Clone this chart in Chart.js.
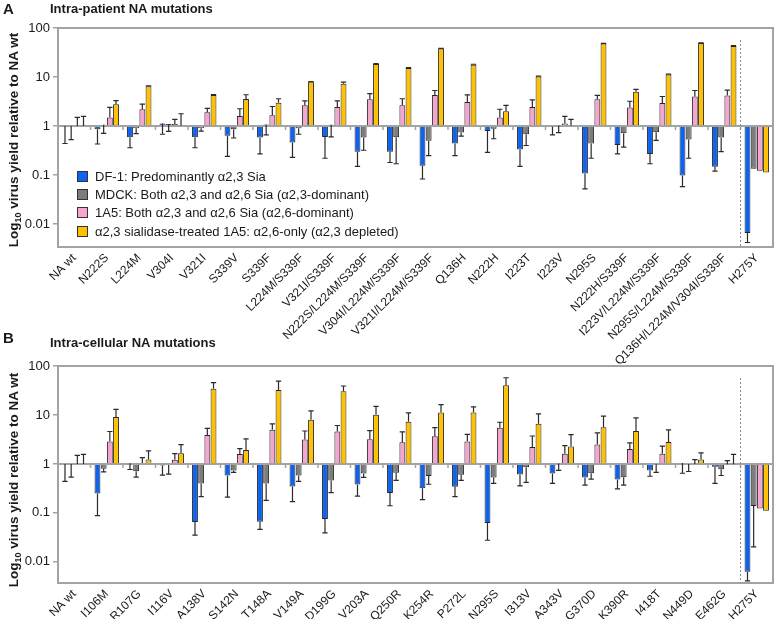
<!DOCTYPE html>
<html lang="en">
<head>
  <meta charset="UTF-8" />
  <title>Virus yield of NA mutants</title>
  <style>
    * { margin: 0; padding: 0; box-sizing: border-box; }
    body {
      width: 775px;
      height: 619px;
      position: relative;
      overflow: hidden;
      background: #fff;
      color: #1a1a1a;
      font-family: 'Liberation Sans', Arial, sans-serif;
    }
    canvas { position: absolute; left: 0; }
    #chartA { top: 0; }
    #chartB { top: 330px; }
    .panel { position: absolute; font-weight: bold; font-size: 15px; line-height: 15px; }
    .title { position: absolute; font-weight: bold; font-size: 13px; line-height: 13px; }
    .ytitle {
      position: absolute;
      font-weight: bold;
      font-size: 13.5px;
      line-height: 13px;
      white-space: nowrap;
      transform: translate(-50%, -50%) rotate(-90deg);
    }
    .ytitle sub { font-size: 9px; line-height: 0; }
    .legend { position: absolute; left: 77px; top: 167px; font-size: 13px; }
    .legend div { height: 18.3px; display: flex; align-items: center; white-space: nowrap; }
    .legend .box { width: 11px; height: 11px; border: 1px solid #333; margin-right: 7px; flex: none; }
  </style>
</head>
<body>
  <canvas id="chartA" width="775" height="370"></canvas>
  <canvas id="chartB" width="775" height="289"></canvas>

  <div class="panel" style="left:3px; top:1px;">A</div>
  <div class="title" style="left:50px; top:2px;">Intra-patient NA mutations</div>
  <div class="ytitle" style="left:13px; top:140px;">Log<sub>10</sub> virus yield relative to NA wt</div>

  <div class="panel" style="left:3px; top:330px;">B</div>
  <div class="title" style="left:50px; top:336px;">Intra-cellular NA mutations</div>
  <div class="ytitle" style="left:13px; top:480px;">Log<sub>10</sub> virus yield relative to NA wt</div>

  <div class="legend" id="legend"></div>

  <script src="https://cdn.jsdelivr.net/npm/chart.js"></script>
  <script>
    // categories
    const categoriesA = ['NA wt', 'N222S', 'L224M', 'V304I', 'V321I', 'S339V', 'S339F',
      'L224M/S339F', 'V321I/S339F', 'N222S/L224M/S339F', 'V304I/L224M/S339F',
      'V321I/L224M/S339F', 'Q136H', 'N222H', 'I223T', 'I223V', 'N295S', 'N222H/S339F',
      'I223V/L224M/S339F', 'N295S/L224M/S339F', 'Q136H/L224M/V304I/S339F', 'H275Y'];
    const categoriesB = ['NA wt', 'I106M', 'R107G', 'I116V', 'A138V', 'S142N', 'T148A',
      'V149A', 'D199G', 'V203A', 'Q250R', 'K254R', 'P272L', 'N295S', 'I313V', 'A343V',
      'G370D', 'K390R', 'I418T', 'N449D', 'E462G', 'H275Y'];

    const seriesNames = [
      'DF-1: Predominantly α2,3 Sia',
      'MDCK: Both α2,3 and α2,6 Sia (α2,3-dominant)',
      '1A5: Both α2,3 and α2,6 Sia (α2,6-dominant)',
      'α2,3 sialidase-treated 1A5: α2,6-only (α2,3 depleted)'
    ];
    const tickValues = [0.01, 0.1, 1, 10, 100];

    // panel A: fold change vs NA wt, and where the error whisker ends
    const df1A = [1, 0.86, 0.59, 1.13, 0.59, 0.63, 0.58, 0.46, 0.6, 0.3, 0.3, 0.155, 0.44, 0.79, 0.33, 0.97, 0.108, 0.41, 0.27, 0.098, 0.148, 0.0066];
    const df1ErrA = [0.44, 0.43, 0.36, 0.68, 0.36, 0.24, 0.27, 0.23, 0.22, 0.15, 0.18, 0.083, 0.25, 0.29, 0.15, 0.66, 0.052, 0.27, 0.17, 0.058, 0.12, 0.0042];
    const mdckA = [1, 1.06, 0.9, 1.1, 0.9, 0.86, 1.08, 0.9, 1.06, 0.58, 0.59, 0.5, 0.74, 0.88, 0.68, 1.03, 0.44, 0.71, 0.75, 0.53, 0.58, 0.135];
    const mdckErrA = [0.53, 0.71, 0.7, 0.78, 0.79, 0.57, 0.66, 0.68, 0.6, 0.32, 0.17, 0.25, 0.62, 0.55, 0.4, 0.73, 0.22, 0.37, 0.51, 0.22, 0.3, 0.135];
    const a15A = [1, 1.5, 2.19, 1.1, 1.9, 1.6, 1.65, 2.65, 2.45, 3.5, 2.64, 4.3, 3.1, 1.5, 2.45, 1.12, 3.5, 2.4, 2.95, 4.0, 4.2, 0.122];
    const a15ErrA = [1.5, 2.4, 2.81, 1.37, 2.3, 2.25, 2.5, 3.25, 3.25, 4.6, 3.6, 5.3, 4.3, 2.2, 3.4, 1.57, 4.2, 3.2, 4.0, 5.3, 5.4, 0.122];
    const sialA = [1, 2.77, 6.45, 1.03, 4.3, 3.55, 3.0, 8.0, 7.3, 18.5, 15.3, 38, 17.8, 2.0, 10.2, 1.02, 48, 5.0, 11.3, 49.5, 43, 0.112];
    const sialErrA = [1.57, 3.29, 6.6, 1.78, 4.4, 4.35, 3.6, 8.1, 7.9, 18.7, 15.5, 38.5, 18.2, 2.64, 10.4, 1.37, 48.5, 5.6, 11.5, 50, 43.5, 0.112];

    // panel B
    const df1B = [1, 0.248, 1.03, 0.93, 0.065, 0.58, 0.066, 0.345, 0.075, 0.38, 0.256, 0.32, 0.34, 0.062, 0.606, 0.635, 0.526, 0.48, 0.73, 1.04, 0.88, 0.00625];
    const df1ErrB = [0.44, 0.088, 0.77, 0.59, 0.035, 0.21, 0.046, 0.17, 0.039, 0.22, 0.14, 0.187, 0.215, 0.0276, 0.355, 0.40, 0.37, 0.31, 0.56, 0.645, 0.40, 0.0041];
    const mdckB = [1, 0.80, 0.71, 0.95, 0.40, 0.73, 0.40, 0.58, 0.46, 0.635, 0.66, 0.57, 0.60, 0.526, 0.855, 1.02, 0.645, 0.535, 0.98, 1.0, 0.78, 0.139];
    const mdckErrB = [0.54, 0.69, 0.54, 0.62, 0.215, 0.67, 0.18, 0.44, 0.26, 0.53, 0.46, 0.385, 0.46, 0.40, 0.42, 0.74, 0.49, 0.37, 0.67, 0.70, 0.58, 0.0203];
    const a15B = [1, 2.86, 1.05, 1.22, 3.9, 1.6, 5.0, 3.14, 4.6, 3.2, 2.77, 3.67, 2.86, 5.5, 2.22, 1.62, 2.48, 2.02, 1.62, 1.0, 0.98, 0.123];
    const a15ErrB = [1.5, 4.6, 1.35, 1.62, 5.3, 2.05, 6.6, 4.7, 6.1, 4.8, 4.5, 5.5, 4.0, 7.1, 3.72, 2.37, 4.3, 2.68, 2.3, 1.23, 1.17, 0.123];
    const sialB = [1, 9.1, 1.23, 1.65, 34.5, 1.93, 32.3, 8.0, 30.4, 10.1, 7.3, 11.2, 11.2, 40.4, 6.65, 2.26, 5.6, 4.72, 2.81, 1.23, 0.98, 0.11];
    const sialErrB = [1.57, 13, 1.84, 2.48, 45.6, 3.24, 49, 12.1, 39, 15, 11, 16.2, 14.6, 57.6, 10.5, 3.97, 9.5, 8.7, 4.94, 1.68, 1.57, 0.11];

    const barColors = ['#0d63f0', '#7d7d7d', '#f5a5cf', '#ffc000'];
    const frameColor = '#a3a3a3';

    // legend (inside panel A)
    const legendEl = document.getElementById('legend');
    seriesNames.forEach((name, i) => {
      const row = document.createElement('div');
      row.innerHTML = '<span class="box" style="background:' + barColors[i] + '"></span>' + name;
      legendEl.appendChild(row);
    });

    // box around plot, line at y = 1 with group ticks, dotted line before the H275Y control
    const frame = {
      id: 'frame',
      afterDatasetsDraw(chart) {
        const { ctx, chartArea: a, scales: { x, y } } = chart;
        const y1 = y.getPixelForValue(1);
        const n = chart.data.labels.length;
        ctx.save();
        ctx.strokeStyle = frameColor;
        ctx.lineWidth = 2;
        ctx.strokeRect(a.left, a.top, a.right - a.left, a.bottom - a.top);
        ctx.beginPath();
        ctx.moveTo(a.left, y1);
        ctx.lineTo(a.right, y1);
        ctx.stroke();
        ctx.lineWidth = 1.5;
        for (let i = 1; i < n; i++) {
          const xb = (x.getPixelForTick(i - 1) + x.getPixelForTick(i)) / 2;
          ctx.beginPath();
          ctx.moveTo(xb, y1);
          ctx.lineTo(xb, y1 + 4);
          ctx.stroke();
        }
        const xs = (x.getPixelForTick(n - 2) + x.getPixelForTick(n - 1)) / 2;
        ctx.setLineDash([2, 2]);
        ctx.lineWidth = 1;
        ctx.strokeStyle = '#8c8c8c';
        ctx.beginPath();
        ctx.moveTo(xs, a.top + 12);
        ctx.lineTo(xs, a.bottom);
        ctx.stroke();
        ctx.restore();
      }
    };

    // one-sided error whiskers, going away from 1
    const errorBars = {
      id: 'errorBars',
      afterDatasetsDraw(chart) {
        const ctx = chart.ctx;
        const y = chart.scales.y;
        ctx.save();
        ctx.strokeStyle = '#2a2a2a';
        ctx.lineWidth = 1.2;
        chart.data.datasets.forEach((ds, i) => {
          const meta = chart.getDatasetMeta(i);
          meta.data.forEach((bar, j) => {
            const end = ds.errors[j];
            if (end == null || end === ds.data[j]) return;
            const y0 = y.getPixelForValue(ds.data[j]);
            const y1 = y.getPixelForValue(end);
            const half = bar.width * 0.45;
            ctx.beginPath();
            ctx.moveTo(bar.x, y0);
            ctx.lineTo(bar.x, y1);
            ctx.moveTo(bar.x - half, y1);
            ctx.lineTo(bar.x + half, y1);
            ctx.stroke();
          });
        });
        ctx.restore();
      }
    };

    function makeChart(id, labels, series, errors, yMin, padTop, xHeight) {
      const datasets = series.map((data, i) => ({
        label: seriesNames[i],
        data: data,
        errors: errors[i],
        base: 1,
        backgroundColor: barColors[i],
        borderColor: '#262626',
        borderWidth: 1,
        barPercentage: 0.95,
        categoryPercentage: 0.76
      }));
      return new Chart(document.getElementById(id), {
        type: 'bar',
        data: { labels: labels, datasets: datasets },
        plugins: [frame, errorBars],
        options: {
          responsive: false,
          animation: false,
          layout: { padding: { top: padTop, right: 2, left: 0, bottom: 0 } },
          plugins: { legend: { display: false }, tooltip: { enabled: false } },
          scales: {
            x: {
              type: 'category',
              offset: true,
              grid: { display: false },
              border: { display: false },
              ticks: {
                autoSkip: false,
                minRotation: 45,
                maxRotation: 45,
                padding: -4,
                color: '#1a1a1a',
                font: { family: "'Liberation Sans', Arial, sans-serif", size: 12 }
              },
              afterFit(scale) { scale.height = xHeight; }
            },
            y: {
              type: 'logarithmic',
              min: yMin,
              max: 100,
              grid: { display: true, drawOnChartArea: false, drawTicks: true, tickLength: 5, color: frameColor, lineWidth: 1.5 },
              border: { display: false },
              ticks: {
                padding: 3,
                color: '#1a1a1a',
                font: { family: "'Liberation Sans', Arial, sans-serif", size: 13 },
                callback: v => String(v)
              },
              afterBuildTicks(scale) { scale.ticks = tickValues.map(v => ({ value: v })); },
              afterFit(scale) { scale.width = 58; }
            }
          }
        }
      });
    }

    makeChart('chartA', categoriesA, [df1A, mdckA, a15A, sialA],
      [df1ErrA, mdckErrA, a15ErrA, sialErrA], 0.0034, 28, 123);
    makeChart('chartB', categoriesB, [df1B, mdckB, a15B, sialB],
      [df1ErrB, mdckErrB, a15ErrB, sialErrB], 0.0037, 36, 36);
  </script>
</body>
</html>
